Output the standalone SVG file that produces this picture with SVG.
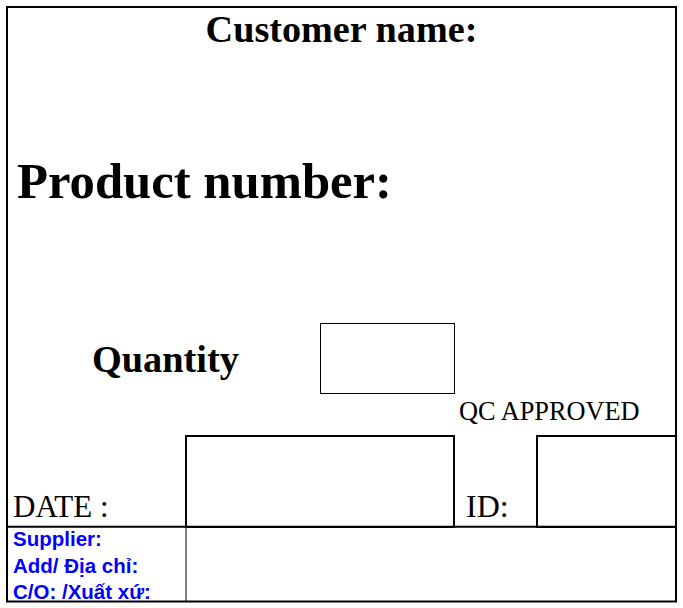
<svg xmlns="http://www.w3.org/2000/svg" width="683" height="608" viewBox="0 0 683 608">
<style>
.serif{font-family:"Liberation Serif","Times New Roman",serif;fill:#000}
.b{font-weight:bold}
.blue{font-family:"Liberation Sans",Arial,sans-serif;font-weight:bold;fill:#0000FF;font-size:20.5px}
.thick{fill:none;stroke:#000;stroke-width:2}
.thin{fill:none;stroke:#000;stroke-width:1}
</style>
<rect width="683" height="608" fill="#fff"/>
<g id="connectors">
<rect class="thick" x="7" y="7" width="669" height="594.5"/>
<line class="thick" x1="7" y1="526.7" x2="676" y2="526.7"/>
<line class="thin" x1="186" y1="527" x2="186" y2="601"/>
</g>
<g id="customer-name">
<text class="serif b" x="341.5" y="42" text-anchor="middle" font-size="38.2">Customer name:</text>
</g>
<g id="product-number">
<text class="serif b" x="17" y="198" font-size="50.7">Product number:</text>
</g>
<g id="quantity">
<text class="serif b" x="92" y="372" font-size="38.3">Quantity</text>
<rect class="thin" x="320.5" y="323.5" width="134" height="70"/>
</g>
<g id="qc-approved">
<text class="serif" x="459" y="420" font-size="26.3">QC APPROVED</text>
</g>
<g id="date">
<text class="serif" x="13" y="517" font-size="31">DATE :</text>
<rect class="thick" x="186" y="436" width="268" height="91"/>
</g>
<g id="id">
<text class="serif" x="466" y="517" font-size="32">ID:</text>
<rect class="thick" x="537" y="436" width="139" height="91"/>
</g>
<g id="supplier">
<text class="blue" x="13" y="546">Supplier:</text>
<text class="blue" x="13" y="573">Add/ Địa chỉ:</text>
<text class="blue" x="13" y="599">C/O: /Xuất xứ:</text>
</g>
</svg>
